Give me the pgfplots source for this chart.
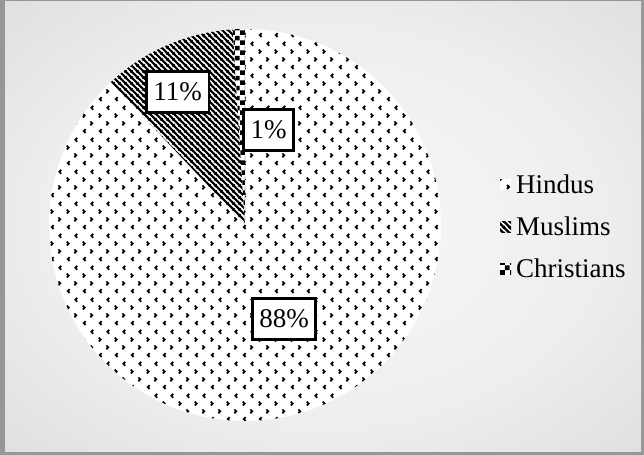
\documentclass[border=0pt]{standalone}
\usepackage{fontspec}
\setmainfont{Liberation Serif}
\usepackage{pgfplots}
\pgfplotsset{compat=1.18}
\usetikzlibrary{patterns,patterns.meta}

\pgfdeclarepattern{
  name=hindu, type=uncolored,
  bottom left={\pgfpoint{0bp}{0bp}}, top right={\pgfpoint{16bp}{32bp}},
  tile size={\pgfpoint{16bp}{32bp}},
  code={
    \pgfsetlinewidth{1.8bp}
    \pgfpathmoveto{\pgfpoint{6bp}{6bp}}\pgfpathlineto{\pgfpoint{4bp}{4bp}}\pgfpathlineto{\pgfpoint{6bp}{2bp}}
    \pgfpathmoveto{\pgfpoint{11bp}{14bp}}\pgfpathlineto{\pgfpoint{13bp}{12bp}}\pgfpathlineto{\pgfpoint{11bp}{10bp}}
    \pgfpathmoveto{\pgfpoint{3bp}{22bp}}\pgfpathlineto{\pgfpoint{5bp}{20bp}}\pgfpathlineto{\pgfpoint{3bp}{18bp}}
    \pgfpathmoveto{\pgfpoint{14bp}{30bp}}\pgfpathlineto{\pgfpoint{12bp}{28bp}}\pgfpathlineto{\pgfpoint{14bp}{26bp}}
    \pgfusepath{stroke}
  }
}
\pgfdeclarepattern{
  name=muslim, type=uncolored,
  bottom left={\pgfpoint{0bp}{0bp}}, top right={\pgfpoint{6bp}{6bp}},
  tile size={\pgfpoint{6bp}{6bp}},
  code={
    \pgfsetlinewidth{2.4bp}
    \pgfpathmoveto{\pgfpoint{-1bp}{7bp}}\pgfpathlineto{\pgfpoint{7bp}{-1bp}}
    \pgfpathmoveto{\pgfpoint{-1bp}{1bp}}\pgfpathlineto{\pgfpoint{1bp}{-1bp}}
    \pgfpathmoveto{\pgfpoint{5bp}{7bp}}\pgfpathlineto{\pgfpoint{7bp}{5bp}}
    \pgfusepath{stroke}
  }
}
\pgfdeclarepattern{
  name=christian, type=uncolored,
  bottom left={\pgfpoint{0bp}{0bp}}, top right={\pgfpoint{10bp}{10bp}},
  tile size={\pgfpoint{10bp}{10bp}},
  code={
    \pgfpathrectangle{\pgfpoint{0bp}{0bp}}{\pgfpoint{5bp}{5bp}}
    \pgfpathrectangle{\pgfpoint{5bp}{5bp}}{\pgfpoint{5bp}{5bp}}
    \pgfusepath{fill}
  }
}

\pgfdeclareradialshading{bgshade}{\pgfpoint{0bp}{0bp}}{%
  color(0bp)=(rgb,255:red,248;green,248;blue,248);
  color(22bp)=(rgb,255:red,238;green,238;blue,238);
  color(50bp)=(rgb,255:red,208;green,208;blue,208);
  color(71bp)=(rgb,255:red,185;green,185;blue,185)}

% values (percent)
\def\vH{88}
\def\vM{11}
\def\vC{1}

\begin{document}
\begin{tikzpicture}
\fill[color={rgb,255:red,150;green,150;blue,150}] (0,0) rectangle (644bp,455bp);
\shade[shading=bgshade] (5bp,3bp) rectangle (641bp,453bp);
\pgfmathsetmacro{\aA}{90}
\pgfmathsetmacro{\aB}{90-3.6*\vH}
\pgfmathsetmacro{\aC}{\aB-3.6*\vM}
\pgfmathsetmacro{\aD}{\aC-3.6*\vC}
\begin{axis}[
  at={(245bp,230bp)}, anchor=center,
  width=392bp, height=392bp, scale only axis,
  xmin=-1, xmax=1, ymin=-1, ymax=1,
  hide axis, clip=false,
  legend style={at={(1.148,0.495)}, anchor=west, draw=none, fill=none,
    font=\fontsize{27bp}{30bp}\selectfont, row sep=18bp, column sep=3bp, inner sep=1bp},
  legend cell align=left,
  legend image code/.code={\fill[#1, draw=none] (0bp,-5.5bp) rectangle (11bp,5.5bp);},
]
\addplot[draw=none, fill=white, postaction={pattern=hindu, pattern color=black},
  domain=\aB:\aA, samples=240] ({cos(x)},{sin(x)}) -- (axis cs:0,0) -- cycle;
\addlegendentry{Hindus}
\addplot[draw=none, fill=white, postaction={pattern=muslim, pattern color=black},
  domain=\aC:\aB, samples=40] ({cos(x)},{sin(x)}) -- (axis cs:0,0) -- cycle;
\addlegendentry{Muslims}
\addplot[draw=none, fill=white, postaction={pattern=christian, pattern color=black},
  domain=\aD:\aC, samples=8] ({cos(x)},{sin(x)}) -- (axis cs:0,0) -- cycle;
\addlegendentry{Christians}
\tikzset{lab/.style={draw=black, line width=2.6bp, fill=white, inner xsep=7bp,
  minimum height=41bp, font=\fontsize{27bp}{30bp}\selectfont}}
\node[lab] at (axis cs:0.199,-0.480) {88\%};
\node[lab] at (axis cs:-0.344,0.680) {11\%};
\node[lab] at (axis cs:0.121,0.486) {1\%};
\end{axis}
\end{tikzpicture}
\end{document}
